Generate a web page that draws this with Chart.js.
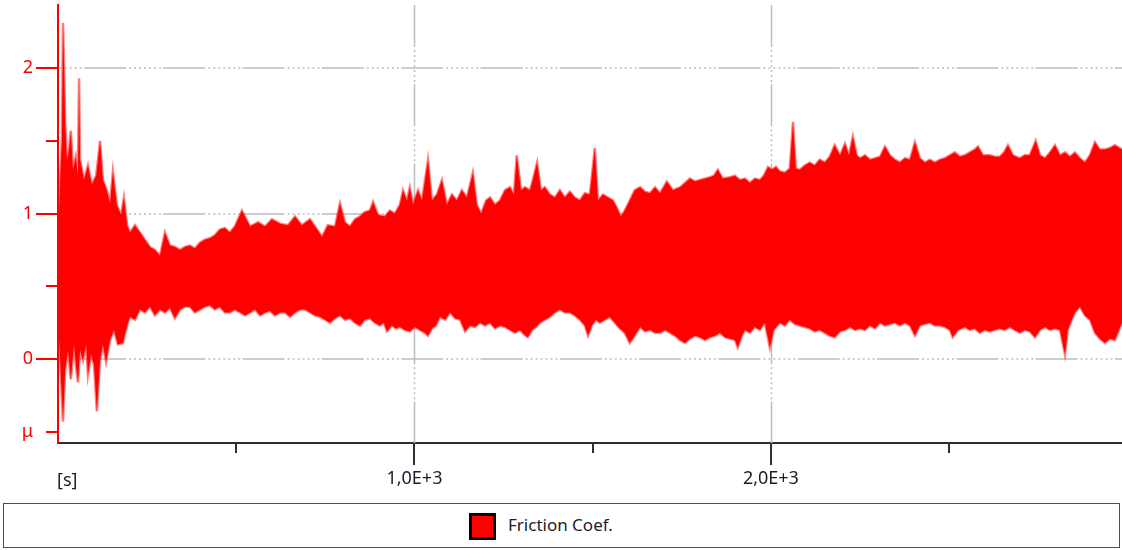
<!DOCTYPE html>
<html>
<head>
<meta charset="utf-8">
<script src="https://cdn.jsdelivr.net/npm/chart.js@4.4.1/dist/chart.umd.min.js"></script>
<style>
  html, body { margin: 0; padding: 0; background: #ffffff; }
  #wrap { position: relative; width: 1122px; height: 550px; overflow: hidden; }
  #c { position: absolute; left: 0; top: 0; }
  #legend {
    position: absolute; left: 3px; top: 503px; width: 1117px; height: 45px;
    box-sizing: border-box; border: 1.5px solid #505050; background: #fff;
  }
  #legend .sw {
    position: absolute; left: 465px; top: 9px; width: 27px; height: 27px;
    box-sizing: border-box; border: 3px solid #000; background: #ff0000;
  }
  #legend .tx {
    position: absolute; left: 504px; top: 0; line-height: 42px;
    font-family: "Noto Sans", sans-serif; font-size: 17px; color: #1c1c2a;
  }
</style>
</head>
<body>
<div id="wrap">
  <canvas id="c" width="1122" height="495"></canvas>
  <div id="legend"><div class="sw"></div><div class="tx" id="legendText"></div></div>
</div>
<script>
// ---- data ----
const seriesName = 'Friction Coef.';

const upperTime = [0,6,11,14,17,20,25,31,36,42,50,56,59,62,73,84,95,107,118,126,137,146,154,165,177,185,194,202,
  216,230,244,258,272,286,300,314,328,342,356,370,384,398,412,426,440,454,468,482,496,516,539,561,581,600,623,645,
  665,684,707,724,741,757,777,791,805,819,833,847,861,875,884,898,917,931,945,959,968,979,987,996,1010,1021,1038,
  1049,1063,1077,1091,1105,1119,1133,1147,1164,1175,1187,1201,1212,1226,1240,1254,1268,1279,1287,1299,1310,1324,
  1332,1344,1355,1366,1380,1394,1408,1422,1436,1450,1464,1478,1492,1506,1515,1529,1543,1557,1568,1579,1590,1604,
  1618,1633,1647,1661,1675,1689,1708,1725,1745,1759,1773,1787,1801,1815,1829,1840,1851,1865,1885,1899,1913,1927,
  1941,1955,1969,1980,1992,2003,2014,2025,2039,2053,2062,2070,2081,2095,2109,2123,2137,2151,2165,2179,2194,2208,
  2219,2230,2241,2250,2264,2278,2292,2306,2320,2334,2348,2362,2376,2390,2404,2418,2432,2446,2460,2474,2488,2502,
  2516,2530,2544,2558,2572,2581,2595,2614,2628,2642,2654,2665,2679,2698,2712,2726,2743,2755,2769,2783,2797,2811,
  2825,2839,2853,2867,2881,2895,2909,2923,2937,2951,2965,2985];
const upperMu = [0.82,1.23,1.51,2.31,2.03,1.64,1.37,1.44,1.57,1.30,1.39,1.26,1.93,1.37,1.23,1.33,1.20,1.26,1.50,1.23,
  1.16,1.07,1.29,1.06,0.99,1.11,0.92,0.87,0.92,0.87,0.82,0.77,0.75,0.71,0.87,0.78,0.77,0.75,0.77,0.78,0.76,0.80,
  0.82,0.83,0.85,0.89,0.90,0.87,0.91,1.02,0.91,0.94,0.91,0.96,0.93,0.92,0.98,0.92,0.96,0.90,0.84,0.92,0.91,1.07,
  0.94,0.91,0.96,0.98,1.01,1.02,1.08,0.99,0.98,1.02,1.00,1.06,1.16,1.09,1.18,1.06,1.16,1.09,1.37,1.09,1.13,1.23,
  1.06,1.13,1.09,1.16,1.11,1.28,1.06,1.00,1.09,1.11,1.06,1.09,1.16,1.18,1.13,1.40,1.16,1.18,1.16,1.23,1.35,1.16,
  1.18,1.13,1.11,1.16,1.11,1.15,1.11,1.09,1.14,1.13,1.45,1.09,1.13,1.11,1.09,1.04,0.98,1.02,1.09,1.16,1.18,1.15,
  1.14,1.18,1.14,1.22,1.16,1.18,1.21,1.24,1.22,1.23,1.24,1.25,1.26,1.30,1.24,1.25,1.26,1.23,1.24,1.21,1.24,1.23,
  1.26,1.32,1.30,1.32,1.29,1.28,1.31,1.63,1.31,1.30,1.33,1.35,1.33,1.37,1.35,1.39,1.47,1.40,1.48,1.40,1.53,1.40,
  1.38,1.40,1.37,1.38,1.39,1.46,1.40,1.37,1.35,1.38,1.37,1.49,1.38,1.35,1.37,1.35,1.37,1.38,1.40,1.42,1.39,1.40,
  1.42,1.44,1.46,1.40,1.40,1.39,1.39,1.42,1.47,1.40,1.38,1.40,1.40,1.50,1.40,1.38,1.42,1.47,1.40,1.42,1.39,1.42,
  1.38,1.35,1.40,1.49,1.44,1.44,1.45,1.47,1.44];

const lowerTime = [0,6,11,14,20,28,36,45,50,56,62,70,79,84,93,101,109,118,126,135,146,157,168,182,194,202,216,230,
  244,258,272,286,300,314,328,342,356,370,384,398,412,426,440,454,468,482,496,511,525,539,553,567,581,595,609,623,
  637,651,665,679,693,707,721,735,749,763,777,791,805,819,833,847,861,875,889,903,914,923,937,948,959,973,987,1001,
  1015,1029,1038,1049,1060,1072,1086,1100,1114,1128,1142,1156,1170,1184,1198,1212,1226,1240,1254,1268,1282,1296,
  1307,1318,1330,1341,1352,1366,1380,1394,1408,1422,1436,1450,1464,1478,1487,1498,1509,1520,1534,1548,1562,1576,
  1590,1604,1618,1633,1647,1661,1675,1689,1703,1717,1731,1745,1759,1773,1787,1801,1815,1829,1843,1857,1871,1885,
  1899,1907,1919,1927,1941,1955,1969,1983,1997,2008,2025,2039,2053,2067,2081,2095,2109,2123,2137,2151,2165,2179,
  2194,2208,2222,2236,2250,2264,2278,2292,2306,2320,2334,2348,2362,2376,2390,2404,2418,2432,2446,2460,2474,2488,
  2502,2510,2525,2544,2558,2572,2586,2600,2614,2628,2642,2656,2670,2684,2698,2712,2726,2741,2755,2769,2783,2797,
  2811,2825,2833,2844,2853,2867,2881,2895,2909,2923,2937,2951,2965,2985];
const lowerMu = [0.27,-0.01,-0.28,-0.43,-0.08,0.06,-0.14,0.10,-0.04,-0.16,0.06,-0.01,0.10,-0.11,0.03,-0.04,-0.36,
  -0.01,0.10,-0.02,0.13,0.20,0.10,0.11,0.23,0.29,0.27,0.34,0.32,0.36,0.30,0.34,0.32,0.35,0.28,0.34,0.36,0.36,0.32,
  0.34,0.36,0.37,0.34,0.36,0.32,0.32,0.34,0.32,0.30,0.32,0.34,0.30,0.32,0.33,0.30,0.32,0.32,0.29,0.32,0.34,0.34,
  0.32,0.30,0.29,0.27,0.25,0.28,0.30,0.27,0.28,0.25,0.23,0.27,0.28,0.25,0.23,0.25,0.19,0.23,0.21,0.22,0.20,0.19,
  0.22,0.20,0.18,0.16,0.21,0.23,0.29,0.27,0.32,0.28,0.27,0.19,0.23,0.22,0.25,0.23,0.25,0.21,0.23,0.22,0.20,0.18,
  0.20,0.17,0.15,0.20,0.22,0.25,0.27,0.29,0.32,0.34,0.32,0.32,0.30,0.27,0.23,0.16,0.23,0.27,0.25,0.27,0.29,0.25,
  0.21,0.18,0.11,0.16,0.22,0.19,0.20,0.18,0.18,0.20,0.18,0.16,0.13,0.11,0.14,0.16,0.15,0.13,0.15,0.16,0.18,0.15,
  0.14,0.13,0.08,0.16,0.20,0.18,0.22,0.20,0.25,0.08,0.20,0.25,0.23,0.27,0.24,0.23,0.22,0.21,0.19,0.20,0.18,0.16,
  0.15,0.19,0.20,0.22,0.20,0.21,0.20,0.23,0.21,0.25,0.23,0.24,0.25,0.23,0.25,0.23,0.16,0.23,0.24,0.25,0.23,0.23,
  0.22,0.20,0.15,0.20,0.22,0.20,0.21,0.18,0.20,0.19,0.20,0.21,0.20,0.22,0.20,0.18,0.20,0.19,0.15,0.20,0.22,0.20,
  0.21,0.20,0.03,0.20,0.27,0.32,0.36,0.30,0.27,0.18,0.14,0.11,0.14,0.13,0.25];

const xTicks = [500, 1000, 1500, 2000, 2500];
const xMajor = [1000, 2000];
const xTickLabels = ['', '1,0E+3', '', '2,0E+3', ''];
const xUnitLabel = '[s]';
const yTicks = [-0.5, 0, 0.5, 1, 1.5, 2];
const yMajor = [0, 1, 2];
const yTickLabels = ['\u03bc', '0', '', '1', '', '2'];
const xRange = [0, 2985];
const yRange = [-0.577, 2.433];

// ---- drawing ----
document.getElementById('legendText').textContent = seriesName;
const FONT = '"Noto Sans", sans-serif';
const RED = '#ff0000';
const EDGE = 'rgba(255,0,0,0.5)';
const GRID_DASH = [42, 3, 2, 3, 2, 3, 2, 3, 2, 3, 2, 3, 2, 3, 2, 2.3];

const toPts = (t, v) => t.map((x, i) => ({ x: x, y: v[i] }));

const deco = {
  id: 'deco',
  beforeDatasetsDraw(chart) {
    const { ctx, chartArea: a, scales: { x, y } } = chart;
    ctx.save();
    ctx.strokeStyle = '#bdbdbd';
    ctx.lineWidth = 1.5;
    ctx.setLineDash(GRID_DASH);
    ctx.lineDashOffset = -25;
    yMajor.forEach(v => {
      const py = Math.round(y.getPixelForValue(v));
      ctx.beginPath(); ctx.moveTo(a.left + 1, py); ctx.lineTo(a.right, py); ctx.stroke();
    });
    ctx.lineDashOffset = 0;
    xMajor.forEach(v => {
      const px = Math.round(x.getPixelForValue(v)) + 0.5;
      ctx.beginPath(); ctx.moveTo(px, a.top); ctx.lineTo(px, a.bottom); ctx.stroke();
    });
    ctx.restore();
  },
  afterDraw(chart) {
    const { ctx, chartArea: a, scales: { x, y } } = chart;
    ctx.save();
    ctx.lineWidth = 2;
    ctx.strokeStyle = RED;
    yTicks.forEach(v => {
      const py = Math.round(y.getPixelForValue(v));
      const len = yMajor.includes(v) ? 22 : 12;
      ctx.beginPath(); ctx.moveTo(a.left - len, py); ctx.lineTo(a.left, py); ctx.stroke();
    });
    ctx.strokeStyle = '#303030';
    xTicks.forEach(v => {
      const px = Math.round(x.getPixelForValue(v));
      const len = xMajor.includes(v) ? 22 : 10;
      ctx.beginPath(); ctx.moveTo(px, a.bottom); ctx.lineTo(px, a.bottom + len); ctx.stroke();
    });
    ctx.fillStyle = '#1c1c2a';
    ctx.font = '18px ' + FONT;
    ctx.textAlign = 'left';
    ctx.textBaseline = 'alphabetic';
    ctx.fillText(xUnitLabel, x.getPixelForValue(xRange[0]) - 1, a.bottom + 43);
    ctx.restore();
  }
};

new Chart(document.getElementById('c'), {
  type: 'line',
  data: {
    datasets: [
      { label: seriesName, data: toPts(upperTime, upperMu), borderColor: EDGE, backgroundColor: RED,
        borderWidth: 2.5, pointRadius: 0, fill: { value: 0.5 } },
      { label: seriesName + ' (min)', data: toPts(lowerTime, lowerMu), borderColor: EDGE, backgroundColor: RED,
        borderWidth: 2.5, pointRadius: 0, fill: { value: 0.6 } }
    ]
  },
  options: {
    responsive: false,
    animation: false,
    layout: { padding: { top: 5, left: 0, right: 0, bottom: 0 } },
    plugins: { legend: { display: false }, tooltip: { enabled: false } },
    elements: { line: { tension: 0 } },
    scales: {
      x: {
        type: 'linear', min: xRange[0], max: xRange[1],
        afterBuildTicks: s => { s.ticks = xTicks.map(v => ({ value: v })); },
        afterFit: s => { s.height = 52; s.paddingLeft = 0; s.paddingRight = 0; },
        grid: { display: true, drawOnChartArea: false, color: 'rgba(0,0,0,0)', tickColor: 'rgba(0,0,0,0)', tickLength: 22 },
        border: { display: true, color: '#303030', width: 2 },
        ticks: { autoSkip: false, maxRotation: 0, padding: 3, color: '#1c1c2a',
          font: { family: FONT, size: 18 },
          callback: (v, i) => xTickLabels[i] }
      },
      y: {
        type: 'linear', min: yRange[0], max: yRange[1],
        afterBuildTicks: s => { s.ticks = yTicks.map(v => ({ value: v })); },
        afterFit: s => { s.width = 58; s.paddingTop = 0; s.paddingBottom = 0; },
        grid: { display: true, drawOnChartArea: false, color: 'rgba(0,0,0,0)', tickColor: 'rgba(0,0,0,0)', tickLength: 22 },
        border: { display: true, color: RED, width: 2 },
        ticks: { autoSkip: false, padding: 3, color: RED,
          font: { family: FONT, size: 18 },
          callback: (v, i) => yTickLabels[i] }
      }
    }
  },
  plugins: [deco]
});
</script>
</body>
</html>
